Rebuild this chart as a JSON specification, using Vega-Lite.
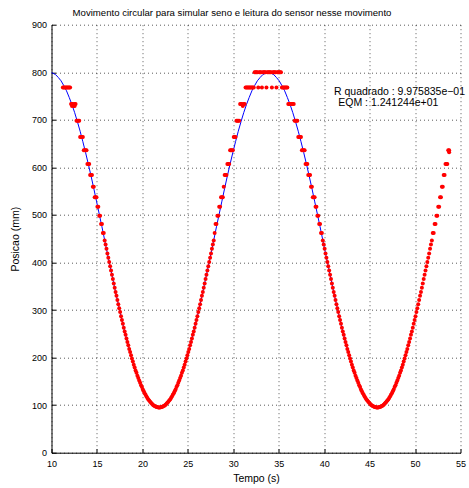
{
  "$schema": "https://vega.github.io/schema/vega-lite/v6.json",
  "width": 409,
  "height": 428,
  "autosize": {"type": "none"},
  "padding": {"left": 51.5, "top": 24.7, "right": 8.5, "bottom": 35.3},
  "background": "white",
  "title": {
    "text": "Movimento circular para simular seno e leitura do sensor nesse movimento",
    "font": "Liberation Sans",
    "fontSize": 9.6,
    "fontWeight": "normal",
    "color": "#000000",
    "anchor": "middle",
    "dx": -24,
    "offset": 3
  },
  "config": {
    "view": {"stroke": null},
    "axis": {
      "domainColor": "#000000",
      "domainWidth": 1,
      "tickColor": "#000000",
      "tickSize": -4,
      "labelFlush": false,
      "grid": true,
      "gridColor": "#000000",
      "gridDash": [1, 3],
      "gridOpacity": 0.65,
      "labelFont": "Liberation Sans",
      "labelFontSize": 9,
      "labelColor": "#000000",
      "titleFont": "Liberation Sans",
      "titleFontSize": 10.5,
      "titleFontWeight": "normal",
      "titleColor": "#000000"
    }
  },
  "datasets": {
    "ajuste": [
      {"tempo": 10.0, "pos": 799}, {"tempo": 10.15, "pos": 798}, {"tempo": 10.45, "pos": 795}, {"tempo": 10.75, "pos": 789},
      {"tempo": 11.05, "pos": 782}, {"tempo": 11.35, "pos": 772}, {"tempo": 11.65, "pos": 761}, {"tempo": 11.95, "pos": 747},
      {"tempo": 12.25, "pos": 732}, {"tempo": 12.55, "pos": 715}, {"tempo": 12.85, "pos": 696}, {"tempo": 13.15, "pos": 676},
      {"tempo": 13.45, "pos": 654}, {"tempo": 13.75, "pos": 631}, {"tempo": 14.05, "pos": 607}, {"tempo": 14.35, "pos": 582},
      {"tempo": 14.65, "pos": 556}, {"tempo": 14.95, "pos": 529}, {"tempo": 15.25, "pos": 502}, {"tempo": 15.55, "pos": 475},
      {"tempo": 15.85, "pos": 447}, {"tempo": 16.15, "pos": 419}, {"tempo": 16.45, "pos": 392}, {"tempo": 16.75, "pos": 365},
      {"tempo": 17.05, "pos": 338}, {"tempo": 17.35, "pos": 312}, {"tempo": 17.65, "pos": 287}, {"tempo": 17.95, "pos": 263},
      {"tempo": 18.25, "pos": 240}, {"tempo": 18.55, "pos": 218}, {"tempo": 18.85, "pos": 198}, {"tempo": 19.15, "pos": 179},
      {"tempo": 19.45, "pos": 162}, {"tempo": 19.75, "pos": 147}, {"tempo": 20.05, "pos": 133}, {"tempo": 20.35, "pos": 122},
      {"tempo": 20.65, "pos": 112}, {"tempo": 20.95, "pos": 105}, {"tempo": 21.25, "pos": 99}, {"tempo": 21.55, "pos": 96},
      {"tempo": 21.85, "pos": 95}, {"tempo": 22.15, "pos": 96}, {"tempo": 22.45, "pos": 99}, {"tempo": 22.75, "pos": 105},
      {"tempo": 23.05, "pos": 112}, {"tempo": 23.35, "pos": 122}, {"tempo": 23.65, "pos": 133}, {"tempo": 23.95, "pos": 147},
      {"tempo": 24.25, "pos": 162}, {"tempo": 24.55, "pos": 179}, {"tempo": 24.85, "pos": 198}, {"tempo": 25.15, "pos": 218},
      {"tempo": 25.45, "pos": 240}, {"tempo": 25.75, "pos": 263}, {"tempo": 26.05, "pos": 287}, {"tempo": 26.35, "pos": 312},
      {"tempo": 26.65, "pos": 338}, {"tempo": 26.95, "pos": 365}, {"tempo": 27.25, "pos": 392}, {"tempo": 27.55, "pos": 419},
      {"tempo": 27.85, "pos": 447}, {"tempo": 28.15, "pos": 475}, {"tempo": 28.45, "pos": 502}, {"tempo": 28.75, "pos": 529},
      {"tempo": 29.05, "pos": 556}, {"tempo": 29.35, "pos": 582}, {"tempo": 29.65, "pos": 607}, {"tempo": 29.95, "pos": 631},
      {"tempo": 30.25, "pos": 654}, {"tempo": 30.55, "pos": 676}, {"tempo": 30.85, "pos": 696}, {"tempo": 31.15, "pos": 715},
      {"tempo": 31.45, "pos": 732}, {"tempo": 31.75, "pos": 747}, {"tempo": 32.05, "pos": 761}, {"tempo": 32.35, "pos": 772},
      {"tempo": 32.65, "pos": 782}, {"tempo": 32.95, "pos": 789}, {"tempo": 33.25, "pos": 795}, {"tempo": 33.55, "pos": 798},
      {"tempo": 33.85, "pos": 799}, {"tempo": 34.15, "pos": 798}, {"tempo": 34.45, "pos": 795}, {"tempo": 34.75, "pos": 789},
      {"tempo": 35.05, "pos": 782}, {"tempo": 35.35, "pos": 772}, {"tempo": 35.65, "pos": 761}, {"tempo": 35.95, "pos": 747},
      {"tempo": 36.25, "pos": 732}, {"tempo": 36.55, "pos": 715}, {"tempo": 36.85, "pos": 696}, {"tempo": 37.15, "pos": 676},
      {"tempo": 37.45, "pos": 654}, {"tempo": 37.75, "pos": 631}, {"tempo": 38.05, "pos": 607}, {"tempo": 38.35, "pos": 582},
      {"tempo": 38.65, "pos": 556}, {"tempo": 38.95, "pos": 529}, {"tempo": 39.25, "pos": 502}, {"tempo": 39.55, "pos": 475},
      {"tempo": 39.85, "pos": 447}, {"tempo": 40.15, "pos": 419}, {"tempo": 40.45, "pos": 392}, {"tempo": 40.75, "pos": 365},
      {"tempo": 41.05, "pos": 338}, {"tempo": 41.35, "pos": 312}, {"tempo": 41.65, "pos": 287}, {"tempo": 41.95, "pos": 263},
      {"tempo": 42.25, "pos": 240}, {"tempo": 42.55, "pos": 218}, {"tempo": 42.85, "pos": 198}, {"tempo": 43.15, "pos": 179},
      {"tempo": 43.45, "pos": 162}, {"tempo": 43.75, "pos": 147}, {"tempo": 44.05, "pos": 133}, {"tempo": 44.35, "pos": 122},
      {"tempo": 44.65, "pos": 112}, {"tempo": 44.95, "pos": 105}, {"tempo": 45.25, "pos": 99}, {"tempo": 45.55, "pos": 96},
      {"tempo": 45.85, "pos": 95}, {"tempo": 46.15, "pos": 96}, {"tempo": 46.45, "pos": 99}, {"tempo": 46.75, "pos": 105},
      {"tempo": 47.05, "pos": 112}, {"tempo": 47.35, "pos": 122}, {"tempo": 47.65, "pos": 133}, {"tempo": 47.95, "pos": 147}
    ],
    "sensor": [
      {"tempo": 11.25, "pos": 768}, {"tempo": 11.35, "pos": 768}, {"tempo": 11.45, "pos": 768}, {"tempo": 11.55, "pos": 768},
      {"tempo": 11.65, "pos": 768}, {"tempo": 11.75, "pos": 768}, {"tempo": 11.85, "pos": 768}, {"tempo": 11.95, "pos": 768},
      {"tempo": 12.05, "pos": 768}, {"tempo": 12.15, "pos": 733}, {"tempo": 12.25, "pos": 733}, {"tempo": 12.25, "pos": 729},
      {"tempo": 12.35, "pos": 733}, {"tempo": 12.45, "pos": 729}, {"tempo": 12.55, "pos": 733}, {"tempo": 12.55, "pos": 729},
      {"tempo": 12.65, "pos": 733}, {"tempo": 12.75, "pos": 698}, {"tempo": 12.85, "pos": 698}, {"tempo": 12.95, "pos": 698},
      {"tempo": 13.05, "pos": 698}, {"tempo": 13.15, "pos": 664}, {"tempo": 13.25, "pos": 664}, {"tempo": 13.35, "pos": 664},
      {"tempo": 13.45, "pos": 664}, {"tempo": 13.55, "pos": 636}, {"tempo": 13.65, "pos": 636}, {"tempo": 13.75, "pos": 636},
      {"tempo": 13.85, "pos": 636}, {"tempo": 13.95, "pos": 607}, {"tempo": 14.05, "pos": 607}, {"tempo": 14.15, "pos": 607},
      {"tempo": 14.25, "pos": 584}, {"tempo": 14.35, "pos": 584}, {"tempo": 14.45, "pos": 584}, {"tempo": 14.55, "pos": 559},
      {"tempo": 14.65, "pos": 559}, {"tempo": 14.75, "pos": 537}, {"tempo": 14.85, "pos": 537}, {"tempo": 14.95, "pos": 537},
      {"tempo": 15.05, "pos": 517}, {"tempo": 15.15, "pos": 517}, {"tempo": 15.25, "pos": 498}, {"tempo": 15.35, "pos": 498},
      {"tempo": 15.45, "pos": 481}, {"tempo": 15.55, "pos": 481}, {"tempo": 15.65, "pos": 462}, {"tempo": 15.75, "pos": 462},
      {"tempo": 15.85, "pos": 446}, {"tempo": 15.95, "pos": 438}, {"tempo": 16.05, "pos": 429}, {"tempo": 16.15, "pos": 419},
      {"tempo": 16.25, "pos": 410}, {"tempo": 16.35, "pos": 401}, {"tempo": 16.45, "pos": 392}, {"tempo": 16.55, "pos": 383},
      {"tempo": 16.65, "pos": 374}, {"tempo": 16.75, "pos": 365}, {"tempo": 16.85, "pos": 356}, {"tempo": 16.95, "pos": 347},
      {"tempo": 17.05, "pos": 338}, {"tempo": 17.15, "pos": 330}, {"tempo": 17.25, "pos": 321}, {"tempo": 17.35, "pos": 312},
      {"tempo": 17.45, "pos": 304}, {"tempo": 17.55, "pos": 296}, {"tempo": 17.65, "pos": 287}, {"tempo": 17.75, "pos": 279},
      {"tempo": 17.85, "pos": 271}, {"tempo": 17.95, "pos": 263}, {"tempo": 18.05, "pos": 255}, {"tempo": 18.15, "pos": 248},
      {"tempo": 18.25, "pos": 240}, {"tempo": 18.35, "pos": 233}, {"tempo": 18.45, "pos": 226}, {"tempo": 18.55, "pos": 218},
      {"tempo": 18.65, "pos": 212}, {"tempo": 18.75, "pos": 205}, {"tempo": 18.85, "pos": 198}, {"tempo": 18.95, "pos": 192},
      {"tempo": 19.05, "pos": 185}, {"tempo": 19.15, "pos": 179}, {"tempo": 19.25, "pos": 173}, {"tempo": 19.35, "pos": 168},
      {"tempo": 19.45, "pos": 162}, {"tempo": 19.55, "pos": 157}, {"tempo": 19.65, "pos": 152}, {"tempo": 19.75, "pos": 147},
      {"tempo": 19.85, "pos": 142}, {"tempo": 19.95, "pos": 138}, {"tempo": 20.05, "pos": 133}, {"tempo": 20.15, "pos": 129},
      {"tempo": 20.25, "pos": 125}, {"tempo": 20.35, "pos": 122}, {"tempo": 20.45, "pos": 118}, {"tempo": 20.55, "pos": 115},
      {"tempo": 20.65, "pos": 112}, {"tempo": 20.75, "pos": 110}, {"tempo": 20.85, "pos": 107}, {"tempo": 20.95, "pos": 105},
      {"tempo": 21.05, "pos": 103}, {"tempo": 21.15, "pos": 101}, {"tempo": 21.25, "pos": 99}, {"tempo": 21.35, "pos": 98},
      {"tempo": 21.45, "pos": 97}, {"tempo": 21.55, "pos": 96}, {"tempo": 21.65, "pos": 96}, {"tempo": 21.75, "pos": 95},
      {"tempo": 21.85, "pos": 95}, {"tempo": 21.95, "pos": 95}, {"tempo": 22.05, "pos": 96}, {"tempo": 22.15, "pos": 96},
      {"tempo": 22.25, "pos": 97}, {"tempo": 22.35, "pos": 98}, {"tempo": 22.45, "pos": 99}, {"tempo": 22.55, "pos": 101},
      {"tempo": 22.65, "pos": 103}, {"tempo": 22.75, "pos": 105}, {"tempo": 22.85, "pos": 107}, {"tempo": 22.95, "pos": 110},
      {"tempo": 23.05, "pos": 112}, {"tempo": 23.15, "pos": 115}, {"tempo": 23.25, "pos": 118}, {"tempo": 23.35, "pos": 122},
      {"tempo": 23.45, "pos": 125}, {"tempo": 23.55, "pos": 129}, {"tempo": 23.65, "pos": 133}, {"tempo": 23.75, "pos": 138},
      {"tempo": 23.85, "pos": 142}, {"tempo": 23.95, "pos": 147}, {"tempo": 24.05, "pos": 152}, {"tempo": 24.15, "pos": 157},
      {"tempo": 24.25, "pos": 162}, {"tempo": 24.35, "pos": 168}, {"tempo": 24.45, "pos": 173}, {"tempo": 24.55, "pos": 179},
      {"tempo": 24.65, "pos": 185}, {"tempo": 24.75, "pos": 192}, {"tempo": 24.85, "pos": 198}, {"tempo": 24.95, "pos": 205},
      {"tempo": 25.05, "pos": 212}, {"tempo": 25.15, "pos": 218}, {"tempo": 25.25, "pos": 226}, {"tempo": 25.35, "pos": 233},
      {"tempo": 25.45, "pos": 240}, {"tempo": 25.55, "pos": 248}, {"tempo": 25.65, "pos": 255}, {"tempo": 25.75, "pos": 263},
      {"tempo": 25.85, "pos": 271}, {"tempo": 25.95, "pos": 279}, {"tempo": 26.05, "pos": 287}, {"tempo": 26.15, "pos": 296},
      {"tempo": 26.25, "pos": 304}, {"tempo": 26.35, "pos": 312}, {"tempo": 26.45, "pos": 321}, {"tempo": 26.55, "pos": 330},
      {"tempo": 26.65, "pos": 338}, {"tempo": 26.75, "pos": 347}, {"tempo": 26.85, "pos": 356}, {"tempo": 26.95, "pos": 365},
      {"tempo": 27.05, "pos": 374}, {"tempo": 27.15, "pos": 383}, {"tempo": 27.25, "pos": 392}, {"tempo": 27.35, "pos": 401},
      {"tempo": 27.45, "pos": 410}, {"tempo": 27.55, "pos": 419}, {"tempo": 27.65, "pos": 429}, {"tempo": 27.75, "pos": 438},
      {"tempo": 27.85, "pos": 446}, {"tempo": 27.95, "pos": 462}, {"tempo": 28.05, "pos": 481}, {"tempo": 28.15, "pos": 481},
      {"tempo": 28.25, "pos": 498}, {"tempo": 28.35, "pos": 498}, {"tempo": 28.45, "pos": 517}, {"tempo": 28.55, "pos": 517},
      {"tempo": 28.65, "pos": 537}, {"tempo": 28.75, "pos": 537}, {"tempo": 28.85, "pos": 537}, {"tempo": 28.95, "pos": 559},
      {"tempo": 29.05, "pos": 584}, {"tempo": 29.15, "pos": 584}, {"tempo": 29.25, "pos": 584}, {"tempo": 29.35, "pos": 607},
      {"tempo": 29.45, "pos": 607}, {"tempo": 29.55, "pos": 607}, {"tempo": 29.65, "pos": 636}, {"tempo": 29.75, "pos": 636},
      {"tempo": 29.85, "pos": 636}, {"tempo": 29.95, "pos": 636}, {"tempo": 30.05, "pos": 664}, {"tempo": 30.15, "pos": 664},
      {"tempo": 30.25, "pos": 664}, {"tempo": 30.35, "pos": 698}, {"tempo": 30.45, "pos": 698}, {"tempo": 30.55, "pos": 698},
      {"tempo": 30.65, "pos": 698}, {"tempo": 30.75, "pos": 733}, {"tempo": 30.85, "pos": 733}, {"tempo": 30.95, "pos": 733},
      {"tempo": 31.05, "pos": 729}, {"tempo": 31.15, "pos": 733}, {"tempo": 31.25, "pos": 733}, {"tempo": 31.35, "pos": 768},
      {"tempo": 31.45, "pos": 768}, {"tempo": 31.55, "pos": 768}, {"tempo": 31.65, "pos": 768}, {"tempo": 31.75, "pos": 768},
      {"tempo": 31.85, "pos": 768}, {"tempo": 31.95, "pos": 768}, {"tempo": 32.05, "pos": 768}, {"tempo": 32.15, "pos": 768},
      {"tempo": 32.25, "pos": 768}, {"tempo": 32.35, "pos": 800}, {"tempo": 32.45, "pos": 800}, {"tempo": 32.55, "pos": 800},
      {"tempo": 32.65, "pos": 800}, {"tempo": 32.75, "pos": 768}, {"tempo": 32.85, "pos": 800}, {"tempo": 32.95, "pos": 800},
      {"tempo": 33.05, "pos": 800}, {"tempo": 33.15, "pos": 768}, {"tempo": 33.25, "pos": 800}, {"tempo": 33.35, "pos": 800},
      {"tempo": 33.45, "pos": 800}, {"tempo": 33.55, "pos": 800}, {"tempo": 33.65, "pos": 768}, {"tempo": 33.75, "pos": 800},
      {"tempo": 33.85, "pos": 800}, {"tempo": 33.95, "pos": 800}, {"tempo": 34.05, "pos": 800}, {"tempo": 34.15, "pos": 800},
      {"tempo": 34.25, "pos": 768}, {"tempo": 34.35, "pos": 800}, {"tempo": 34.45, "pos": 800}, {"tempo": 34.55, "pos": 800},
      {"tempo": 34.65, "pos": 800}, {"tempo": 34.75, "pos": 768}, {"tempo": 34.85, "pos": 800}, {"tempo": 34.95, "pos": 800},
      {"tempo": 35.05, "pos": 800}, {"tempo": 35.15, "pos": 800}, {"tempo": 35.25, "pos": 800}, {"tempo": 35.35, "pos": 768},
      {"tempo": 35.45, "pos": 768}, {"tempo": 35.55, "pos": 768}, {"tempo": 35.65, "pos": 768}, {"tempo": 35.75, "pos": 768},
      {"tempo": 35.85, "pos": 768}, {"tempo": 35.95, "pos": 768}, {"tempo": 36.05, "pos": 733}, {"tempo": 36.15, "pos": 733},
      {"tempo": 36.25, "pos": 733}, {"tempo": 36.35, "pos": 733}, {"tempo": 36.45, "pos": 733}, {"tempo": 36.55, "pos": 733},
      {"tempo": 36.65, "pos": 733}, {"tempo": 36.75, "pos": 698}, {"tempo": 36.85, "pos": 698}, {"tempo": 36.95, "pos": 698},
      {"tempo": 37.05, "pos": 698}, {"tempo": 37.15, "pos": 664}, {"tempo": 37.25, "pos": 664}, {"tempo": 37.35, "pos": 664},
      {"tempo": 37.45, "pos": 664}, {"tempo": 37.55, "pos": 636}, {"tempo": 37.65, "pos": 636}, {"tempo": 37.75, "pos": 636},
      {"tempo": 37.85, "pos": 636}, {"tempo": 37.95, "pos": 607}, {"tempo": 38.05, "pos": 607}, {"tempo": 38.15, "pos": 607},
      {"tempo": 38.25, "pos": 584}, {"tempo": 38.35, "pos": 584}, {"tempo": 38.45, "pos": 584}, {"tempo": 38.55, "pos": 559},
      {"tempo": 38.65, "pos": 559}, {"tempo": 38.75, "pos": 537}, {"tempo": 38.85, "pos": 537}, {"tempo": 38.95, "pos": 537},
      {"tempo": 39.05, "pos": 517}, {"tempo": 39.15, "pos": 517}, {"tempo": 39.25, "pos": 498}, {"tempo": 39.35, "pos": 498},
      {"tempo": 39.45, "pos": 481}, {"tempo": 39.55, "pos": 481}, {"tempo": 39.65, "pos": 462}, {"tempo": 39.75, "pos": 462},
      {"tempo": 39.85, "pos": 446}, {"tempo": 39.95, "pos": 438}, {"tempo": 40.05, "pos": 429}, {"tempo": 40.15, "pos": 419},
      {"tempo": 40.25, "pos": 410}, {"tempo": 40.35, "pos": 401}, {"tempo": 40.45, "pos": 392}, {"tempo": 40.55, "pos": 383},
      {"tempo": 40.65, "pos": 374}, {"tempo": 40.75, "pos": 365}, {"tempo": 40.85, "pos": 356}, {"tempo": 40.95, "pos": 347},
      {"tempo": 41.05, "pos": 338}, {"tempo": 41.15, "pos": 330}, {"tempo": 41.25, "pos": 321}, {"tempo": 41.35, "pos": 312},
      {"tempo": 41.45, "pos": 304}, {"tempo": 41.55, "pos": 296}, {"tempo": 41.65, "pos": 287}, {"tempo": 41.75, "pos": 279},
      {"tempo": 41.85, "pos": 271}, {"tempo": 41.95, "pos": 263}, {"tempo": 42.05, "pos": 255}, {"tempo": 42.15, "pos": 248},
      {"tempo": 42.25, "pos": 240}, {"tempo": 42.35, "pos": 233}, {"tempo": 42.45, "pos": 226}, {"tempo": 42.55, "pos": 218},
      {"tempo": 42.65, "pos": 212}, {"tempo": 42.75, "pos": 205}, {"tempo": 42.85, "pos": 198}, {"tempo": 42.95, "pos": 192},
      {"tempo": 43.05, "pos": 185}, {"tempo": 43.15, "pos": 179}, {"tempo": 43.25, "pos": 173}, {"tempo": 43.35, "pos": 168},
      {"tempo": 43.45, "pos": 162}, {"tempo": 43.55, "pos": 157}, {"tempo": 43.65, "pos": 152}, {"tempo": 43.75, "pos": 147},
      {"tempo": 43.85, "pos": 142}, {"tempo": 43.95, "pos": 138}, {"tempo": 44.05, "pos": 133}, {"tempo": 44.15, "pos": 129},
      {"tempo": 44.25, "pos": 125}, {"tempo": 44.35, "pos": 122}, {"tempo": 44.45, "pos": 118}, {"tempo": 44.55, "pos": 115},
      {"tempo": 44.65, "pos": 112}, {"tempo": 44.75, "pos": 110}, {"tempo": 44.85, "pos": 107}, {"tempo": 44.95, "pos": 105},
      {"tempo": 45.05, "pos": 103}, {"tempo": 45.15, "pos": 101}, {"tempo": 45.25, "pos": 99}, {"tempo": 45.35, "pos": 98},
      {"tempo": 45.45, "pos": 97}, {"tempo": 45.55, "pos": 96}, {"tempo": 45.65, "pos": 96}, {"tempo": 45.75, "pos": 95},
      {"tempo": 45.85, "pos": 95}, {"tempo": 45.95, "pos": 95}, {"tempo": 46.05, "pos": 96}, {"tempo": 46.15, "pos": 96},
      {"tempo": 46.25, "pos": 97}, {"tempo": 46.35, "pos": 98}, {"tempo": 46.45, "pos": 99}, {"tempo": 46.55, "pos": 101},
      {"tempo": 46.65, "pos": 103}, {"tempo": 46.75, "pos": 105}, {"tempo": 46.85, "pos": 107}, {"tempo": 46.95, "pos": 110},
      {"tempo": 47.05, "pos": 112}, {"tempo": 47.15, "pos": 115}, {"tempo": 47.25, "pos": 118}, {"tempo": 47.35, "pos": 122},
      {"tempo": 47.45, "pos": 125}, {"tempo": 47.55, "pos": 129}, {"tempo": 47.65, "pos": 133}, {"tempo": 47.75, "pos": 138},
      {"tempo": 47.85, "pos": 142}, {"tempo": 47.95, "pos": 147}, {"tempo": 48.05, "pos": 152}, {"tempo": 48.15, "pos": 157},
      {"tempo": 48.25, "pos": 162}, {"tempo": 48.35, "pos": 168}, {"tempo": 48.45, "pos": 173}, {"tempo": 48.55, "pos": 179},
      {"tempo": 48.65, "pos": 185}, {"tempo": 48.75, "pos": 192}, {"tempo": 48.85, "pos": 198}, {"tempo": 48.95, "pos": 205},
      {"tempo": 49.05, "pos": 212}, {"tempo": 49.15, "pos": 218}, {"tempo": 49.25, "pos": 226}, {"tempo": 49.35, "pos": 233},
      {"tempo": 49.45, "pos": 240}, {"tempo": 49.55, "pos": 248}, {"tempo": 49.65, "pos": 255}, {"tempo": 49.75, "pos": 263},
      {"tempo": 49.85, "pos": 271}, {"tempo": 49.95, "pos": 279}, {"tempo": 50.05, "pos": 287}, {"tempo": 50.15, "pos": 296},
      {"tempo": 50.25, "pos": 304}, {"tempo": 50.35, "pos": 312}, {"tempo": 50.45, "pos": 321}, {"tempo": 50.55, "pos": 330},
      {"tempo": 50.65, "pos": 338}, {"tempo": 50.75, "pos": 347}, {"tempo": 50.85, "pos": 356}, {"tempo": 50.95, "pos": 365},
      {"tempo": 51.05, "pos": 374}, {"tempo": 51.15, "pos": 383}, {"tempo": 51.25, "pos": 392}, {"tempo": 51.35, "pos": 401},
      {"tempo": 51.45, "pos": 410}, {"tempo": 51.55, "pos": 419}, {"tempo": 51.65, "pos": 429}, {"tempo": 51.75, "pos": 438},
      {"tempo": 51.85, "pos": 446}, {"tempo": 51.95, "pos": 462}, {"tempo": 52.05, "pos": 462}, {"tempo": 52.15, "pos": 481},
      {"tempo": 52.25, "pos": 481}, {"tempo": 52.35, "pos": 498}, {"tempo": 52.45, "pos": 498}, {"tempo": 52.55, "pos": 517},
      {"tempo": 52.65, "pos": 517}, {"tempo": 52.75, "pos": 537}, {"tempo": 52.85, "pos": 537}, {"tempo": 52.95, "pos": 559},
      {"tempo": 53.05, "pos": 559}, {"tempo": 53.15, "pos": 584}, {"tempo": 53.25, "pos": 584}, {"tempo": 53.35, "pos": 607},
      {"tempo": 53.45, "pos": 607}, {"tempo": 53.55, "pos": 607}, {"tempo": 53.65, "pos": 636}, {"tempo": 53.75, "pos": 636},
      {"tempo": 53.75, "pos": 632}
    ],
    "notas": [
      {"tempo": 41.08, "pos": 752, "texto": "R quadrado : 9.975835e−01"},
      {"tempo": 41.55, "pos": 729, "texto": "EQM : 1.241244e+01"}
    ]
  },
  "layer": [
    {
      "data": {"name": "ajuste"},
      "mark": {"type": "line", "color": "#0000ff", "strokeWidth": 1},
      "encoding": {
        "x": {
          "field": "tempo",
          "type": "quantitative",
          "scale": {"domain": [10, 55], "nice": false, "zero": false},
          "axis": {"title": "Tempo (s)", "values": [10, 15, 20, 25, 30, 35, 40, 45, 50, 55], "labelPadding": 11, "titlePadding": 5}
        },
        "y": {
          "field": "pos",
          "type": "quantitative",
          "scale": {"domain": [0, 900], "nice": false, "zero": false},
          "axis": {"title": "Posicao (mm)", "values": [0, 100, 200, 300, 400, 500, 600, 700, 800, 900], "labelPadding": 9, "titlePadding": 11}
        }
      }
    },
    {
      "data": {"name": "sensor"},
      "mark": {"type": "point", "filled": true, "shape": "circle", "size": 16, "color": "#ff0000", "opacity": 1},
      "encoding": {
        "x": {"field": "tempo", "type": "quantitative"},
        "y": {"field": "pos", "type": "quantitative"}
      }
    },
    {
      "data": {"name": "notas"},
      "mark": {"type": "text", "align": "left", "baseline": "alphabetic", "font": "Liberation Sans", "fontSize": 10.5, "color": "#000000"},
      "encoding": {
        "x": {"field": "tempo", "type": "quantitative"},
        "y": {"field": "pos", "type": "quantitative"},
        "text": {"field": "texto"}
      }
    }
  ]
}
